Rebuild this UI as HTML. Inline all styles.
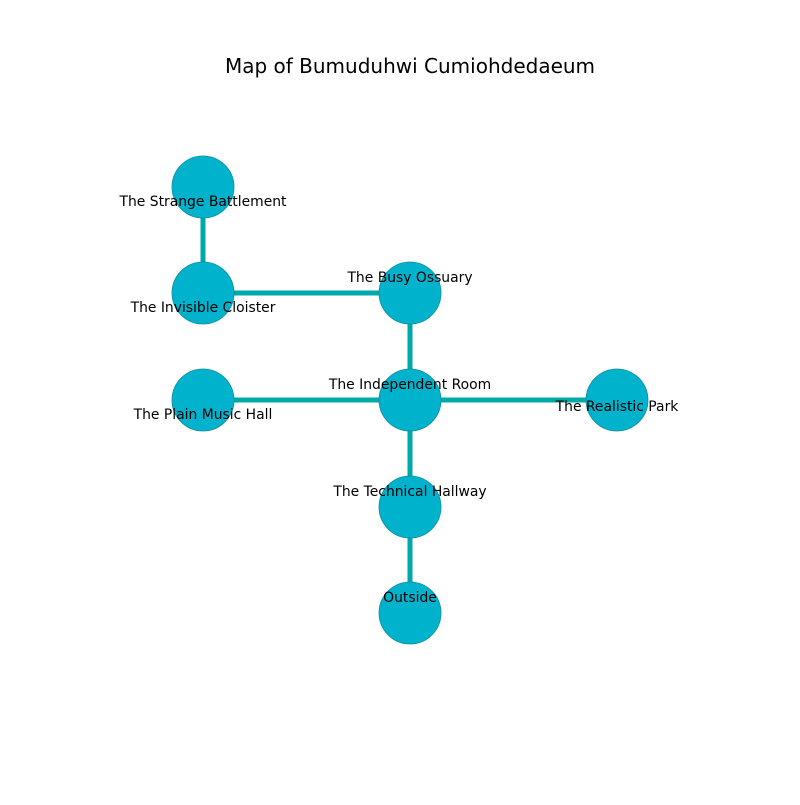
<!DOCTYPE html>
<html><head><style>body{margin:0;background:#fff}</style></head><body>
<svg width="800" height="800" xmlns="http://www.w3.org/2000/svg" font-family="DejaVu Sans, Liberation Sans, sans-serif">
<rect width="800" height="800" fill="#fff"/>
<text x="410" y="73" font-size="20" text-anchor="middle" fill="#000">Map of Bumuduhwi Cumiohdedaeum</text>
<g stroke="#00a9a9" stroke-width="5">
<line x1="203" y1="187" x2="203" y2="293"/>
<line x1="203" y1="293" x2="410" y2="293"/>
<line x1="410" y1="293" x2="410" y2="400"/>
<line x1="203" y1="400" x2="617" y2="400"/>
<line x1="410" y1="400" x2="410" y2="613"/>
</g>
<g fill="#00b2cc" stroke="#0a8fa0" stroke-width="0.8">
<circle cx="203" cy="187" r="31"/>
<circle cx="203" cy="293" r="31"/>
<circle cx="410" cy="293" r="31"/>
<circle cx="203" cy="400" r="31"/>
<circle cx="410" cy="400" r="31"/>
<circle cx="617" cy="400" r="31"/>
<circle cx="410" cy="507" r="31"/>
<circle cx="410" cy="613" r="31"/>
</g>
<g font-size="13.9" text-anchor="middle" fill="#000">
<text x="203" y="206">The Strange Battlement</text>
<text x="203" y="312">The Invisible Cloister</text>
<text x="410" y="282">The Busy Ossuary</text>
<text x="410" y="389">The Independent Room</text>
<text x="203" y="419">The Plain Music Hall</text>
<text x="617" y="411">The Realistic Park</text>
<text x="410" y="496">The Technical Hallway</text>
<text x="410" y="602">Outside</text>
</g>
</svg>
</body></html>
